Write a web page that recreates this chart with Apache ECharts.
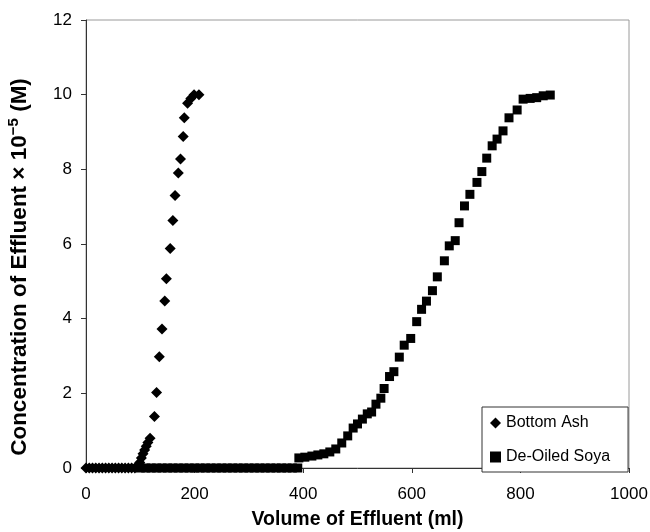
<!DOCTYPE html>
<html lang="en">
<head>
    <meta charset="UTF-8">
    <title>Effluent breakthrough</title>
    <script src="https://cdn.jsdelivr.net/npm/echarts@6/dist/echarts.min.js"></script>
    <style>
        html, body { margin: 0; padding: 0; background: #fff; }
        #chart { width: 650px; height: 532px; }
    </style>
</head>
<body>
    <div id="chart"></div>
    <script>
        // data
        var ashVol = [0, 6, 12, 18, 24, 30, 36, 42, 48, 54, 60, 66, 72, 78, 84, 90,
            96, 99, 102, 105, 108, 111, 114, 118, 126, 130, 135, 140, 145, 148, 155, 160,
            164, 170, 174, 179, 181, 187, 193, 199, 208];
        var ashConc = [0, 0, 0, 0, 0, 0, 0, 0, 0, 0, 0, 0, 0, 0, 0, 0,
            0.06, 0.15, 0.27, 0.38, 0.48, 0.58, 0.68, 0.8, 1.38, 2.02, 2.98, 3.72, 4.47, 5.07, 5.88, 6.63,
            7.3, 7.9, 8.28, 8.88, 9.38, 9.77, 9.9, 10.0, 10.0];

        var soyaVol = [100, 110, 120, 130, 140, 150, 160, 170, 180, 190, 200, 210, 220, 230, 240,
            250, 260, 270, 280, 290, 300, 310, 320, 330, 340, 350, 360, 370, 380, 390,
            392, 403, 416, 427, 438, 449, 460, 471, 482, 492, 500, 509, 518, 526, 534,
            543, 549, 559, 567, 577, 586, 598, 609, 618, 627, 638, 647, 660, 669, 680,
            687, 697, 707, 720, 729, 738, 748, 757, 768, 779, 794, 805, 818, 830, 842, 855];
        var soyaConc = [0, 0, 0, 0, 0, 0, 0, 0, 0, 0, 0, 0, 0, 0, 0,
            0, 0, 0, 0, 0, 0, 0, 0, 0, 0, 0, 0, 0, 0, 0,
            0.27, 0.29, 0.32, 0.35, 0.38, 0.43, 0.51, 0.67, 0.86, 1.07, 1.18, 1.31, 1.45, 1.5, 1.71,
            1.87, 2.13, 2.45, 2.58, 2.97, 3.29, 3.47, 3.92, 4.25, 4.47, 4.75, 5.12, 5.55, 5.95, 6.09,
            6.57, 7.02, 7.33, 7.65, 7.94, 8.3, 8.63, 8.81, 9.03, 9.38, 9.59, 9.88, 9.9, 9.92, 9.97, 9.99];

        var seriesNames = ['Bottom Ash', 'De-Oiled Soya'];

        function pairs(xs, ys) {
            var out = [];
            for (var i = 0; i < xs.length; i++) {
                out.push([xs[i], ys[i]]);
            }
            return out;
        }

        var font = 'Liberation Sans, Arial, Helvetica, sans-serif';
        var myChart = echarts.init(document.getElementById('chart'));

        var option = {
            animation: false,
            backgroundColor: '#fff',
            textStyle: { fontFamily: font, color: '#000' },
            grid: {
                left: 86,
                right: 21,
                top: 20,
                bottom: 64,
                outerBoundsMode: 'none',
                show: true,
                borderColor: '#9a9a9a',
                borderWidth: 1,
                backgroundColor: 'transparent'
            },
            legend: {
                orient: 'vertical',
                left: 482,
                top: 407,
                padding: [8, 18, 7, 8],
                itemGap: 18,
                itemWidth: 11,
                itemHeight: 11,
                itemStyle: { color: '#000' },
                backgroundColor: '#fff',
                borderColor: '#333',
                borderWidth: 1,
                borderRadius: 0,
                textStyle: { fontFamily: font, fontSize: 16, color: '#000', lineHeight: 14 },
                data: [
                    { name: seriesNames[0], icon: 'diamond' },
                    { name: seriesNames[1], icon: 'rect' }
                ]
            },
            xAxis: {
                type: 'value',
                min: 0,
                max: 1000,
                interval: 200,
                name: 'Volume of Effluent (ml)',
                nameLocation: 'middle',
                nameGap: 42,
                nameTextStyle: { fontFamily: font, fontSize: 19.5, fontWeight: 'bold', color: '#000' },
                axisLine: { show: true, lineStyle: { color: '#333', width: 1 } },
                axisTick: { show: true, length: 5, lineStyle: { color: '#333' } },
                axisLabel: {
                    fontFamily: font, fontSize: 17, color: '#000', margin: 18,
                    formatter: function (v) { return String(v); }
                },
                splitLine: { show: false }
            },
            yAxis: {
                type: 'value',
                min: 0,
                max: 12,
                interval: 2,
                name: '{a|Concentration of Effluent × 10}{s|−5}{a| (M)}',
                nameLocation: 'middle',
                nameGap: 52,
                nameTextStyle: {
                    fontFamily: font,
                    fontWeight: 'bold',
                    color: '#000',
                    padding: [0, 46, 0, 0],
                    rich: {
                        a: { fontFamily: font, fontSize: 22.5, fontWeight: 'bold', color: '#000', lineHeight: 28 },
                        s: { fontFamily: font, fontSize: 15, fontWeight: 'bold', color: '#000', lineHeight: 15, verticalAlign: 'top' }
                    }
                },
                axisLine: { show: true, lineStyle: { color: '#333', width: 1 } },
                axisTick: { show: true, length: 5, lineStyle: { color: '#333' } },
                axisLabel: { fontFamily: font, fontSize: 17, color: '#000', margin: 14 },
                splitLine: { show: false }
            },
            series: [
                {
                    name: seriesNames[0],
                    type: 'scatter',
                    symbol: 'diamond',
                    symbolSize: 11,
                    itemStyle: { color: '#000', opacity: 1 },
                    data: pairs(ashVol, ashConc)
                },
                {
                    name: seriesNames[1],
                    type: 'scatter',
                    symbol: 'rect',
                    symbolSize: 9,
                    itemStyle: { color: '#000', opacity: 1 },
                    data: pairs(soyaVol, soyaConc)
                }
            ]
        };
        myChart.setOption(option);
    </script>
</body>
</html>
